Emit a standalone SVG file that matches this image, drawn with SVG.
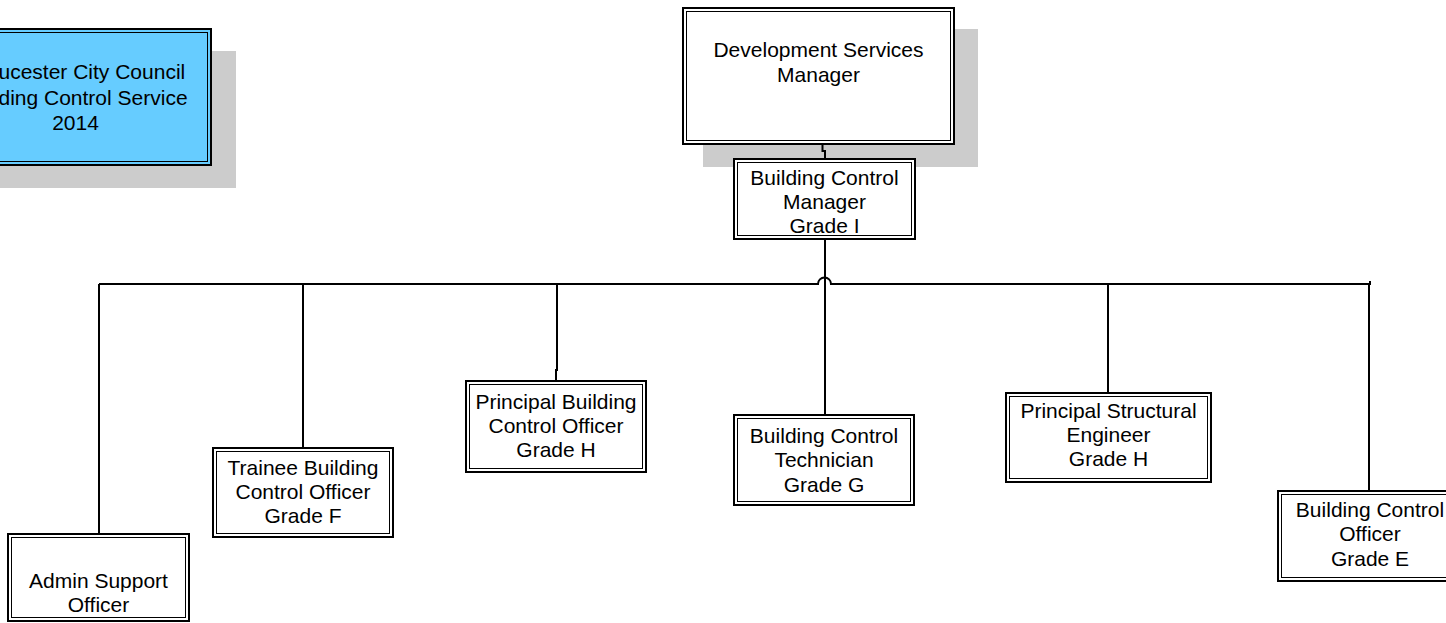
<svg xmlns="http://www.w3.org/2000/svg" width="1446" height="623" viewBox="0 0 1446 623">
<style>
.o{fill:none;stroke:#000;stroke-width:2}
.i{fill:none;stroke:#000;stroke-width:1}
.bg{fill:#fff}
.blue{fill:#66CCFF}
.sh{fill:#CCCCCC}
.t{font-family:"Liberation Sans",Arial,sans-serif;font-size:21px;fill:#000;text-anchor:middle}
.c{fill:none;stroke:#000;stroke-width:2}
</style>
<rect width="1446" height="623" fill="#fff"/>
<g id="title">
<rect class="sh" x="-37" y="51" width="273" height="137"/>
<rect class="blue" x="-61" y="28" width="273" height="138"/>
<rect class="o" x="-60" y="29" width="271" height="136"/>
<rect class="i" x="-56.5" y="32.5" width="264" height="129"/>
<text class="t" x="75.5" y="79">Gloucester City Council</text>
<text class="t" x="75.5" y="104.5">Building Control Service</text>
<text class="t" x="75.5" y="130">2014</text>
</g>
<g id="dev">
<rect class="sh" x="703" y="29" width="275" height="138"/>
<rect class="bg" x="682" y="7" width="273" height="138"/>
<rect class="o" x="683" y="8" width="271" height="136"/>
<rect class="i" x="686.5" y="11.5" width="264" height="129"/>
<text class="t" x="818.5" y="57">Development Services</text>
<text class="t" x="818.5" y="82">Manager</text>
</g>
<g id="connectors">
<path class="c" d="M822.5,144 V151 H825 V158"/>
<path class="c" d="M825,240 V414"/>
<path class="c" d="M99,284 H818 A6.5,6.5 0 0 1 831,284 H1370 V281"/>
<path class="c" d="M99,284 V533"/>
<path class="c" d="M303,284 V447"/>
<path class="c" d="M557,284 V370 H556 V380"/>
<path class="c" d="M1108,284 V392"/>
<path class="c" d="M1369,284 V490"/>
</g>
<g id="bcm">
<rect class="bg" x="733" y="158" width="183" height="82"/>
<rect class="o" x="734" y="159" width="181" height="80"/>
<rect class="i" x="737.5" y="162.5" width="174" height="73"/>
<text class="t" x="824.5" y="185">Building Control</text>
<text class="t" x="824.5" y="209">Manager</text>
<text class="t" x="824.5" y="233">Grade I</text>
</g>
<g id="admin">
<rect class="bg" x="7" y="533" width="183" height="89"/>
<rect class="o" x="8" y="534" width="181" height="87"/>
<rect class="i" x="11.5" y="537.5" width="174" height="80"/>
<text class="t" x="98.5" y="588">Admin Support</text>
<text class="t" x="98.5" y="612">Officer</text>
</g>
<g id="trainee">
<rect class="bg" x="212" y="447" width="182" height="91"/>
<rect class="o" x="213" y="448" width="180" height="89"/>
<rect class="i" x="216.5" y="451.5" width="173" height="82"/>
<text class="t" x="303" y="475">Trainee Building</text>
<text class="t" x="303" y="499">Control Officer</text>
<text class="t" x="303" y="523">Grade F</text>
</g>
<g id="pbco">
<rect class="bg" x="465" y="380" width="182" height="93"/>
<rect class="o" x="466" y="381" width="180" height="91"/>
<rect class="i" x="469.5" y="384.5" width="173" height="84"/>
<text class="t" x="556" y="409">Principal Building</text>
<text class="t" x="556" y="433">Control Officer</text>
<text class="t" x="556" y="457">Grade H</text>
</g>
<g id="bct">
<rect class="bg" x="733" y="414" width="182" height="92"/>
<rect class="o" x="734" y="415" width="180" height="90"/>
<rect class="i" x="737.5" y="418.5" width="173" height="83"/>
<text class="t" x="824" y="443">Building Control</text>
<text class="t" x="824" y="467">Technician</text>
<text class="t" x="824" y="492">Grade G</text>
</g>
<g id="pse">
<rect class="bg" x="1005" y="392" width="207" height="91"/>
<rect class="o" x="1006" y="393" width="205" height="89"/>
<rect class="i" x="1009.5" y="396.5" width="198" height="82"/>
<text class="t" x="1108.5" y="418">Principal Structural</text>
<text class="t" x="1108.5" y="442">Engineer</text>
<text class="t" x="1108.5" y="466">Grade H</text>
</g>
<g id="bco">
<rect class="bg" x="1277" y="490" width="186" height="92"/>
<rect class="o" x="1278" y="491" width="184" height="90"/>
<rect class="i" x="1281.5" y="494.5" width="177" height="83"/>
<text class="t" x="1370" y="517">Building Control</text>
<text class="t" x="1370" y="541">Officer</text>
<text class="t" x="1370" y="566">Grade E</text>
</g>
</svg>
